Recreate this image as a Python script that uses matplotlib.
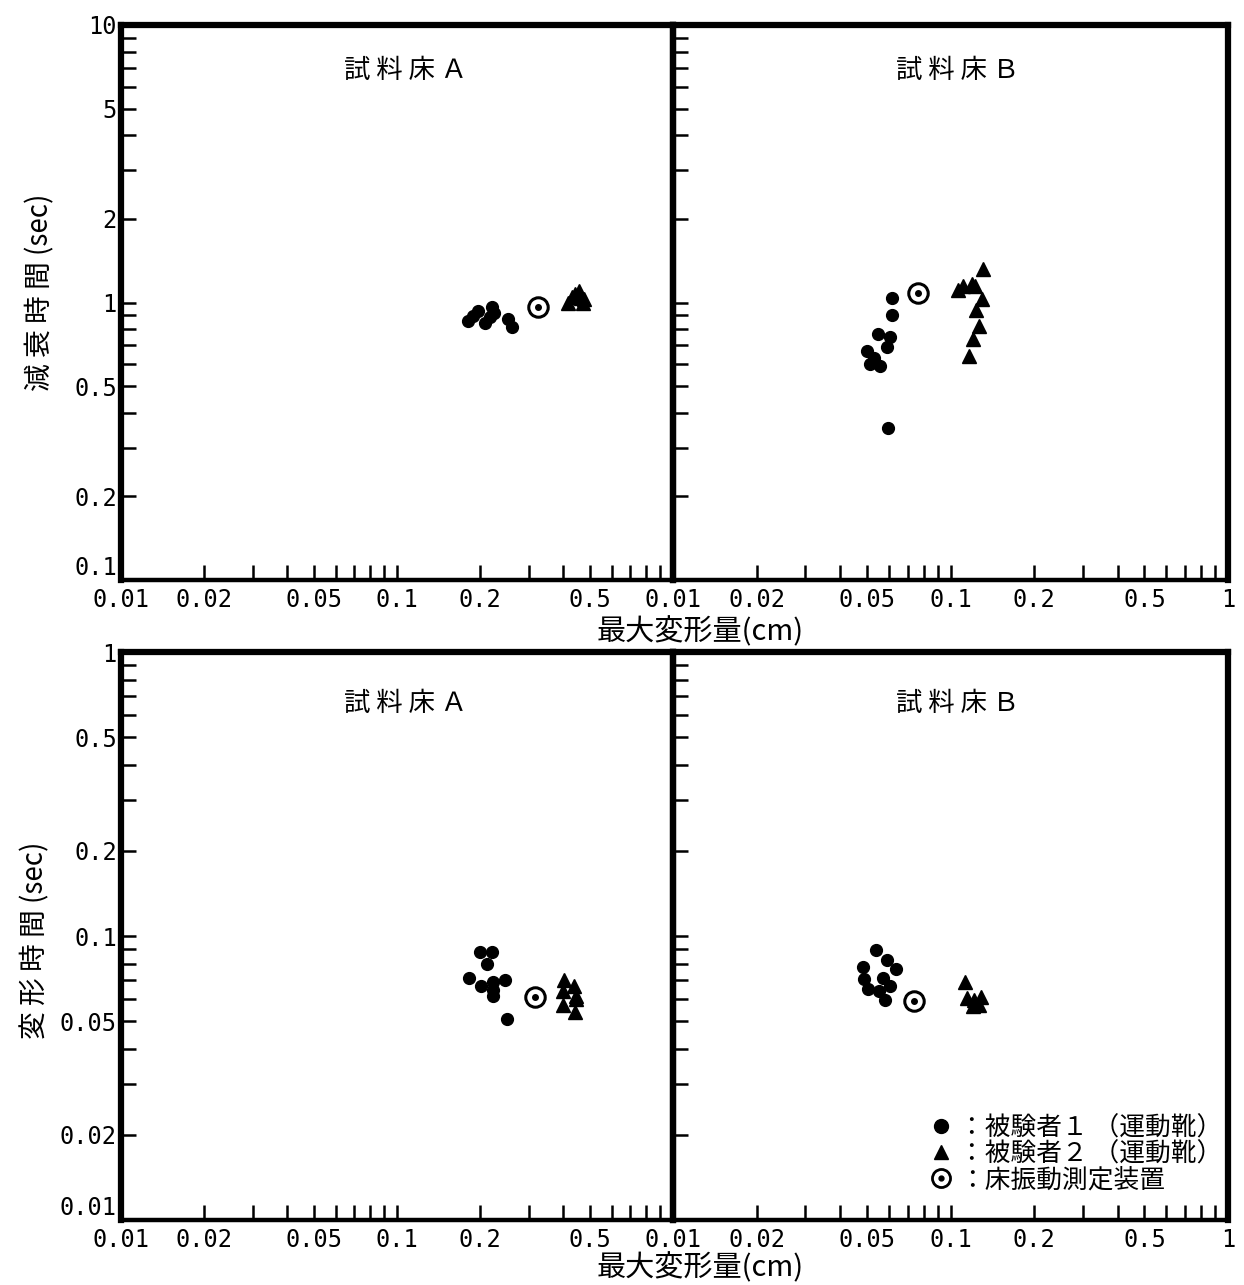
import math
import matplotlib
matplotlib.use('Agg')
import matplotlib.pyplot as plt
from matplotlib.lines import Line2D
from matplotlib.font_manager import FontProperties

CJK = ['Noto Sans CJK JP', 'DejaVu Sans']
NUM = 'DejaVu Sans Mono'

# ---------------- data ----------------
panel_titles = ['試 料 床 Ａ', '試 料 床 Ｂ']
xlabel_text = '最大変形量(cm)'
ylabel_top = '減 衰 時 間 (sec)'
ylabel_bottom = '変 形 時 間 (sec)'
legend_labels = ['：被験者１ （運動靴）', '：被験者２ （運動靴）', '：床振動測定装置']

x_major = [0.01, 0.02, 0.05, 0.1, 0.2, 0.5, 1]
x_major_labels = ['0.01', '0.02', '0.05', '0.1', '0.2', '0.5', '1']
y_top_major = [0.1, 0.2, 0.5, 1, 2, 5, 10]
y_top_labels = ['0.1', '0.2', '0.5', '1', '2', '5', '10']
y_bot_major = [0.01, 0.02, 0.05, 0.1, 0.2, 0.5, 1]
y_bot_labels = ['0.01', '0.02', '0.05', '0.1', '0.2', '0.5', '1']

# 減衰時間 - 試料床A
decA_s1_x = [0.181, 0.188, 0.196, 0.208, 0.217, 0.221, 0.225, 0.252, 0.261]
decA_s1_y = [0.861, 0.897, 0.935, 0.847, 0.883, 0.967, 0.92, 0.875, 0.813]
decA_s2_x = [0.417, 0.430, 0.442, 0.456, 0.465, 0.472, 0.477]
decA_s2_y = [1.00, 1.05, 1.07, 1.10, 1.04, 1.00, 1.03]
decA_dev_x = [0.325]
decA_dev_y = [0.96]

# 減衰時間 - 試料床B
decB_s1_x = [0.0615, 0.0615, 0.0548, 0.0605, 0.059, 0.050, 0.0513, 0.0557, 0.0596, 0.053]
decB_s1_y = [1.04, 0.90, 0.77, 0.75, 0.69, 0.67, 0.60, 0.59, 0.354, 0.63]
decB_s2_x = [0.131, 0.106, 0.111, 0.120, 0.123, 0.130, 0.124, 0.127, 0.121, 0.117]
decB_s2_y = [1.32, 1.11, 1.15, 1.17, 1.15, 1.03, 0.94, 0.82, 0.74, 0.64]
decB_dev_x = [0.0764]
decB_dev_y = [1.08]

# 変形時間 - 試料床A
defA_s1_x = [0.200, 0.221, 0.212, 0.182, 0.201, 0.223, 0.223, 0.223, 0.246, 0.250]
defA_s1_y = [0.0879, 0.0879, 0.0797, 0.0711, 0.0667, 0.0689, 0.0645, 0.0615, 0.0700, 0.0510]
defA_s2_x = [0.402, 0.399, 0.438, 0.445, 0.399, 0.441, 0.447]
defA_s2_y = [0.070, 0.064, 0.0668, 0.0615, 0.0571, 0.054, 0.060]
defA_dev_x = [0.316]
defA_dev_y = [0.061]

# 変形時間 - 試料床B
defB_s1_x = [0.0539, 0.0484, 0.059, 0.0636, 0.0488, 0.0571, 0.0605, 0.0504, 0.0552, 0.058]
defB_s1_y = [0.0893, 0.0778, 0.0823, 0.0765, 0.0706, 0.0712, 0.0667, 0.065, 0.064, 0.0595]
defB_s2_x = [0.1127, 0.1146, 0.1216, 0.1288, 0.1205, 0.1268]
defB_s2_y = [0.0689, 0.0605, 0.0595, 0.0608, 0.0567, 0.0573]
defB_dev_x = [0.0738]
defB_dev_y = [0.059]

# ---------------- figure ----------------
fig = plt.figure(figsize=(12.44, 12.85), dpi=100)

L, M, R = 121 / 1244, 673 / 1244, 1228 / 1244
top_b, top_t = 1 - 580 / 1285, 1 - 25 / 1285
bot_b, bot_t = 1 - 1220 / 1285, 1 - 652 / 1285

axes = {
    'TL': fig.add_axes([L, top_b, M - L, top_t - top_b]),
    'TR': fig.add_axes([M, top_b, R - M, top_t - top_b]),
    'BL': fig.add_axes([L, bot_b, M - L, bot_t - bot_b]),
    'BR': fig.add_axes([M, bot_b, R - M, bot_t - bot_b]),
}

def minor_list(lo_exp, hi_exp):
    out = []
    for e in range(lo_exp, hi_exp):
        for s in range(1, 10):
            out.append(s * 10.0 ** e)
    out.append(10.0 ** hi_exp)
    return out

def style(ax, ylim, ymaj, ylabs, show_y, show_x_one):
    ax.set_xscale('log')
    ax.set_yscale('log')
    ax.set_xlim(0.01, 1)
    ax.set_ylim(*ylim)
    ax.set_xticks(x_major)
    labs = list(x_major_labels)
    if not show_x_one:
        labs[-1] = ''
    ax.set_xticklabels(labs, fontfamily=NUM, fontsize=17)
    ax.set_xticks(minor_list(-2, 0), minor=True)
    ax.set_xticklabels([], minor=True)
    ax.set_yticks(ymaj)
    if show_y:
        tl = ax.set_yticklabels(ylabs, fontfamily=NUM, fontsize=17)
        tl[0].set_verticalalignment('bottom')
    else:
        ax.set_yticklabels([])
    lo = int(round(math.log10(ylim[0])))
    hi = int(round(math.log10(ylim[1])))
    ax.set_yticks(minor_list(lo, hi), minor=True)
    ax.set_yticklabels([], minor=True)
    ax.tick_params(which='both', direction='in', length=11, width=1.8,
                   top=False, right=False, colors='black')
    ax.tick_params(axis='y', which='both', pad=3)
    ax.tick_params(axis='x', which='both', pad=6)
    for side in ['top', 'left', 'right']:
        ax.spines[side].set_linewidth(4.5)
    ax.spines['bottom'].set_linewidth(3.2)
    ax.patch.set_alpha(0)

def draw(ax, s1x, s1y, s2x, s2y, dx, dy):
    ax.plot(s1x, s1y, 'o', color='black', ms=8.5, ls='none', clip_on=False)
    ax.plot(s2x, s2y, '^', color='black', ms=10, ls='none', clip_on=False)
    ax.plot(dx, dy, 'o', mfc='white', mec='black', mew=2.2, ms=14, ls='none')
    ax.plot(dx, dy, 'o', color='black', ms=4, ls='none')

style(axes['TL'], (0.1, 10), y_top_major, y_top_labels, True, False)
style(axes['TR'], (0.1, 10), y_top_major, y_top_labels, False, True)
style(axes['BL'], (0.01, 1), y_bot_major, y_bot_labels, True, False)
style(axes['BR'], (0.01, 1), y_bot_major, y_bot_labels, False, True)

draw(axes['TL'], decA_s1_x, decA_s1_y, decA_s2_x, decA_s2_y, decA_dev_x, decA_dev_y)
draw(axes['TR'], decB_s1_x, decB_s1_y, decB_s2_x, decB_s2_y, decB_dev_x, decB_dev_y)
draw(axes['BL'], defA_s1_x, defA_s1_y, defA_s2_x, defA_s2_y, defA_dev_x, defA_dev_y)
draw(axes['BR'], defB_s1_x, defB_s1_y, defB_s2_x, defB_s2_y, defB_dev_x, defB_dev_y)

# titles
for key, ttl, yy, xx in [('TL', panel_titles[0], 0.919, 0.516),
                         ('TR', panel_titles[1], 0.919, 0.512),
                         ('BL', panel_titles[0], 0.91, 0.516),
                         ('BR', panel_titles[1], 0.91, 0.512)]:
    axes[key].text(xx, yy, ttl, transform=axes[key].transAxes,
                   ha='center', va='center', fontsize=19, family=CJK)

# axis labels
fig.text(700 / 1244, 1 - 632 / 1285, xlabel_text, ha='center', va='center',
         fontsize=21, family=CJK)
fig.text(700 / 1244, 1 - 1268 / 1285, xlabel_text, ha='center', va='center',
         fontsize=21, family=CJK)
fig.text(40 / 1244, 1 - 292 / 1285, ylabel_top, ha='center', va='center',
         rotation=90, fontsize=20, family=CJK)
fig.text(35 / 1244, 1 - 940 / 1285, ylabel_bottom, ha='center', va='center',
         rotation=90, fontsize=20, family=CJK)

# legend
h1 = Line2D([], [], marker='o', color='black', ls='none', ms=10)
h2 = Line2D([], [], marker='^', color='black', ls='none', ms=10)
h3a = Line2D([], [], marker='o', mfc='white', mec='black', mew=2, ls='none', ms=13)
h3b = Line2D([], [], marker='o', color='black', ls='none', ms=3.5)
leg = axes['BR'].legend([h1, h2, (h3a, h3b)], legend_labels, loc='lower right',
                        bbox_to_anchor=(0.99, 0.047), frameon=False,
                        prop=FontProperties(family=CJK, size=18.5),
                        labelspacing=0.0, handletextpad=0.1, handlelength=1.2,
                        borderaxespad=0.0, borderpad=0.0)

fig.savefig('out.png', dpi=100, facecolor='white')
